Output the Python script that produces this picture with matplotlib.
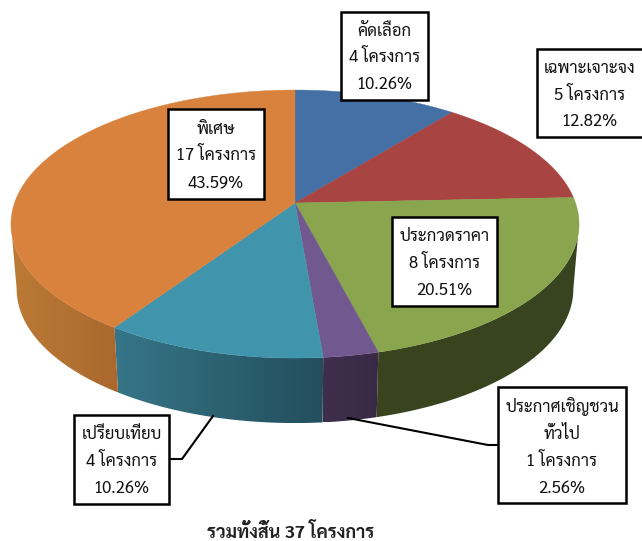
import matplotlib
matplotlib.use('Agg')
import matplotlib.pyplot as plt
import numpy as np

# จำนวนโครงการที่ใช้วาดชิ้นพาย (ป้ายในภาพเขียนไว้ต่างออกไป: พิเศษ 17)
slice_names = ["คัดเลือก", "เฉพาะเจาะจง", "ประกวดราคา", "ประกาศเชิญชวน\nทั่วไป", "เปรียบเทียบ", "พิเศษ"]
slice_values = [4, 5, 8, 1, 4, 15]
label_counts = [4, 5, 8, 1, 4, 17]
label_percents = ["10.26%", "12.82%", "20.51%", "2.56%", "10.26%", "43.59%"]
total_text = "รวมทั้งสิ้น 37 โครงการ"

top_colors = ["#4570A5", "#A84442", "#89A54E", "#71588F", "#4095AD", "#D8823D"]
# สีด้านข้าง ซ้าย -> ขวา
side_colors = [("#2E4A6E", "#2E4A6E"), ("#6E2C2B", "#6E2C2B"), ("#3A4520", "#38431F"),
               ("#3F2F4D", "#382A45"), ("#367688", "#234E5D"), ("#BC7A36", "#AA682E")]

plt.rcParams['font.family'] = ['Sarabun', 'IBM Plex Sans Thai Looped', 'DejaVu Sans']

W, H = 642, 541
fig = plt.figure(figsize=(W / 100, H / 100), dpi=100)
ax = fig.add_axes([0, 0, 1, 1])
ax.set_xlim(0, W)
ax.set_ylim(H, 0)
ax.axis('off')

# ── พารามิเตอร์ภาพฉาย ──
cx, cy = 295, 203
A, B, p = 280.5, 130.7, 0.157
depth = 65
bottom_scale = 0.98


def rim(theta, bottom=False):
    # theta เป็นองศา ตามเข็มจากด้านบน
    t = np.radians(theta)
    u, v = np.sin(t), -np.cos(t)
    w = 1 - p * v
    x = A * u / w
    y = cy + B * v / w
    if bottom:
        return cx + x * bottom_scale, y + depth
    return cx + x, y


edges = np.concatenate([[0], np.cumsum(slice_values)]) / np.sum(slice_values) * 360
vis_start, vis_end = 99, 261

# ── ด้านข้าง ──
for i in range(len(slice_values)):
    a0, a1 = max(edges[i], vis_start), min(edges[i + 1], vis_end)
    if a1 <= a0:
        continue
    th = np.linspace(a0, a1, 200)
    xt, yt = rim(th)
    xb, yb = rim(th, bottom=True)
    poly_x = np.concatenate([xt, xb[::-1]])
    poly_y = np.concatenate([yt, yb[::-1]])
    patch = plt.Polygon(np.column_stack([poly_x, poly_y]), closed=True, fc='none', ec='none')
    ax.add_patch(patch)
    c_left, c_right = [np.array(matplotlib.colors.to_rgb(c)) for c in side_colors[i]]
    grad = np.linspace(0, 1, 256)[None, :, None]
    img = c_left + (c_right - c_left) * grad
    im = ax.imshow(img, extent=[poly_x.min(), poly_x.max(), poly_y.max(), poly_y.min()],
                   aspect='auto', interpolation='bilinear', zorder=1)
    im.set_clip_path(patch)
ax.set_xlim(0, W)
ax.set_ylim(H, 0)

# ── หน้าบน ──
for i in range(len(slice_values)):
    th = np.linspace(edges[i], edges[i + 1], 200)
    xt, yt = rim(th)
    ax.fill(np.r_[cx, xt], np.r_[cy, yt], fc=top_colors[i], ec=top_colors[i], lw=0.3, zorder=2)

# ── เส้นโยงป้าย ──
ax.plot([498, 488, 348], [445, 445, 418], color='black', lw=1.5, zorder=3)
ax.plot([170, 182, 213], [459, 459, 416], color='black', lw=1.5, zorder=3)

# ── ป้าย ──
boxes = [(341, 12, 428, 100), (537, 49, 646, 137), (392, 217, 497, 306),
         (498, 387, 626, 503), (74, 415, 169, 504), (168, 109, 264, 199)]
for i, (x0, y0, x1, y1) in enumerate(boxes):
    ax.add_patch(plt.Rectangle((x0, y0), x1 - x0, y1 - y0, fc='white', ec='black', lw=1.8, zorder=4))
    txt = f"{slice_names[i]}\n{label_counts[i]} โครงการ\n{label_percents[i]}"
    ax.text((x0 + min(x1, 642)) / 2, (y0 + y1) / 2 + 2, txt, ha='center', va='center',
            fontsize=12, linespacing=1.75, color='#111111', zorder=5)

ax.text(291, 532, total_text, ha='center', va='center', fontsize=13, fontweight='bold', color='#222222')

fig.savefig('out.png', dpi=100)
